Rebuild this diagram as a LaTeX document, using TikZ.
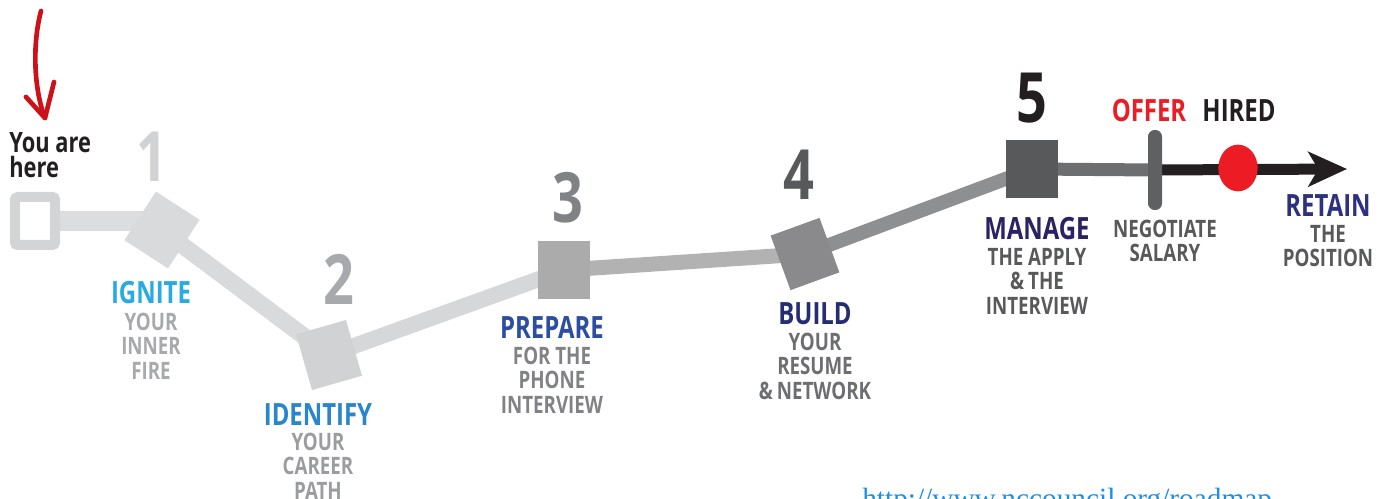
\documentclass[tikz,border=0pt]{standalone}
\usepackage{fontspec}
\setmainfont{Open Sans}[FakeStretch=0.78]
\newfontfamily\urlfont{Liberation Serif}
\usetikzlibrary{arrows.meta,backgrounds,shapes.geometric}

% road colours, light to dark
\definecolor{roadA}{HTML}{D3D4D5}
\definecolor{roadB}{HTML}{DCDDDE}
\definecolor{sqA}{HTML}{D9DADB}
\definecolor{sqB}{HTML}{D1D2D3}
\definecolor{roadC}{HTML}{D6D7D8}
\definecolor{sqC}{HTML}{ABABAC}
\definecolor{roadD}{HTML}{B2B2B3}
\definecolor{sqD}{HTML}{8A8A8C}
\definecolor{roadE}{HTML}{8E8F91}
\definecolor{sqE}{HTML}{58595B}
\definecolor{roadF}{HTML}{6D6E70}
\definecolor{barcol}{HTML}{5F6062}
\definecolor{ink}{HTML}{231F20}
\definecolor{hiredred}{HTML}{ED1C24}
\definecolor{pencil}{HTML}{CC1118}
% text colours
\definecolor{igniteblue}{HTML}{29ABE2}
\definecolor{identblue}{HTML}{2A86CC}
\definecolor{prepblue}{HTML}{2B4EA2}
\definecolor{buildblue}{HTML}{262E72}
\definecolor{manblue}{HTML}{2A2262}
\definecolor{retblue}{HTML}{2E3180}
\definecolor{greyA}{HTML}{A7A9AC}
\definecolor{greyB}{HTML}{9A9C9F}
\definecolor{greyC}{HTML}{808285}
\definecolor{greyD}{HTML}{6D6E71}
\definecolor{greyE}{HTML}{58595B}
\definecolor{digA}{HTML}{D1D2D4}
\definecolor{digB}{HTML}{A7A9AC}
\definecolor{digC}{HTML}{808285}
\definecolor{digD}{HTML}{58595B}
\definecolor{urlblue}{HTML}{1C8FE8}

\begin{document}
\begin{tikzpicture}[x=0.75pt,y=-0.75pt,
  stepsq/.style={rectangle, inner sep=0pt, minimum width=39pt, minimum height=43.5pt},
  digit/.style={anchor=base, inner sep=0pt, font=\fontsize{52}{52}\selectfont\bfseries},
  head/.style={anchor=base, inner sep=0pt, font=\fontsize{23}{23}\selectfont\bfseries},
  body/.style={anchor=north, inner sep=0pt, align=center, font=\fontsize{18}{18.2}\selectfont\bfseries},
]
\useasboundingbox (0,0) rectangle (1386,499);

% ---- steps along the road ----
\node[rectangle, draw=roadA, line width=7.5pt, rounded corners=2pt, inner sep=0pt,
      minimum width=30pt, minimum height=36pt] (start) at (35,221) {};
\node[stepsq, fill=sqA, rotate=-33] (n1) at (162,230) {};
\node[stepsq, fill=sqB, rotate=16] (n2) at (329,355) {};
\node[stepsq, fill=sqC] (n3) at (564,270) {};
\node[stepsq, fill=sqD, rotate=20] (n4) at (805,254) {};
\node[stepsq, fill=sqE] (n5) at (1032,169) {};
\node[rectangle, rounded corners=5pt, fill=barcol, inner sep=0pt,
      minimum width=10.5pt, minimum height=60pt] (bar) at (1155,170) {};
\node[ellipse, fill=hiredred, inner sep=0pt,
      minimum width=29.5pt, minimum height=35pt] (hired) at (1238,168) {};
\coordinate (tip) at (1347,169);

% ---- the road itself, behind the steps ----
\begin{pgfonlayer}{background}
  \draw[roadB, line width=15pt] (start.east) -- (start.east -| n1.center);
  \draw[sqA, line width=12.75pt] (n1.center) -- (n2.center);
  \draw[roadC, line width=12pt] (n2.center) -- (n3.center);
  \draw[roadD, line width=11.25pt] (n3.center) -- (n4.center);
  \draw[roadE, line width=10.5pt] (n4.center) -- (n5.center);
  \draw[roadF, line width=9.75pt] (n5.center) -- (bar.center);
  \draw[ink, line width=8.25pt, -{Stealth[length=29pt, width=26pt, inset=7.5pt]}]
    (bar.center) -- (tip);
\end{pgfonlayer}

% ---- hand-drawn pointer ----
\coordinate (pen0) at (41,11);
\coordinate (pentip) at (45,118);
\coordinate (barbL) at (26,97);
\coordinate (barbR) at (54,82);
\draw[pencil, line width=3.5pt, line cap=round, line join=round]
  (pen0) .. controls (32,45) and (34,90) .. (pentip);
\draw[pencil, line width=3.5pt, line cap=round, line join=round]
  (barbL) -- (pentip) -- (barbR);

\node[anchor=north west, inner sep=0pt, align=left, text=ink,
      font=\fontsize{21}{18.75}\selectfont\bfseries] (here) at (9,132) {You are\\here};

% ---- step numbers ----
\node[digit, text=digA] (d1) at (152,182) {1};
\node[digit, text=digB] (d2) at (339,305) {2};
\node[digit, text=digC] (d3) at (568,223) {3};
\node[digit, text=digD] (d4) at (799,200) {4};
\node[digit, text=ink]  (d5) at (1032,123) {5};

% ---- step captions ----
\node[head, text=igniteblue] (h1) at (151,303) {IGNITE};
\node[body, text=greyA] (b1) at (151,313) {YOUR\\INNER\\FIRE};

\node[head, text=identblue] (h2) at (318,425) {IDENTIFY};
\node[body, text=greyB] (b2) at (318,433) {YOUR\\CAREER\\PATH};

\node[head, text=prepblue] (h3) at (552,338) {PREPARE};
\node[body, text=greyC] (b3) at (552,347) {FOR THE\\PHONE\\INTERVIEW};

\node[head, text=buildblue] (h4) at (815,325) {BUILD};
\node[body, text=greyD] (b4) at (815,333) {YOUR\\RESUME\\\&\,NETWORK};

\node[head, text=manblue] (h5) at (1037,240) {MANAGE};
\node[body, text=greyE] (b5) at (1037,248) {THE APPLY\\\&\,THE\\INTERVIEW};

\node[head, text=hiredred] (offer) at (1149,122) {OFFER};
\node[head, text=ink] (hiredlbl) at (1239,122) {HIRED};

\node[body, text=greyE] (nego) at (1165,220) {NEGOTIATE\\SALARY};

\node[head, text=retblue] (h6) at (1328,217) {RETAIN};
\node[body, text=greyE] (b6) at (1328,225) {THE\\POSITION};

% ---- source link ----
\node[anchor=base west, inner sep=0pt, text=urlblue,
      font=\urlfont\fontsize{22}{22}\selectfont] (url) at (862,508)
  {http://www.nccouncil.org/roadmap};
\end{tikzpicture}
\end{document}
